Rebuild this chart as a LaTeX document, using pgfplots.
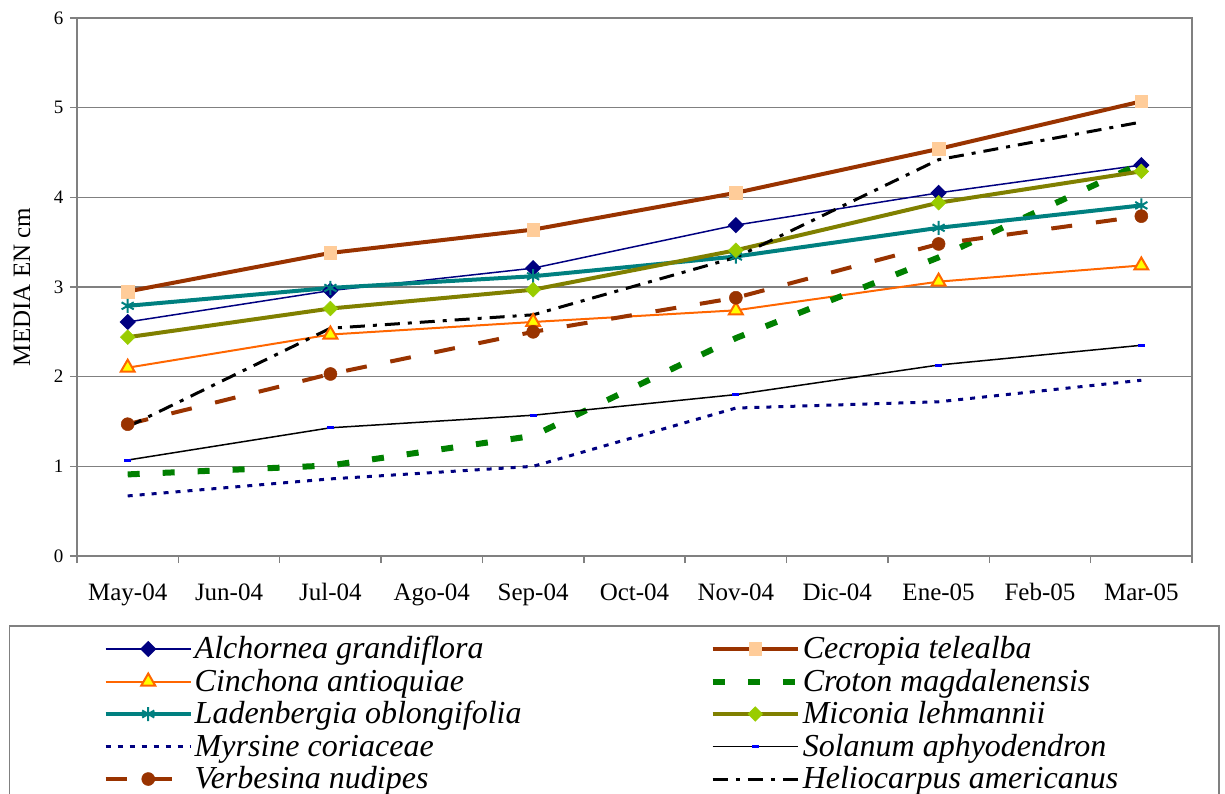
\documentclass[border=0pt]{standalone}
\usepackage{pgfplots}
\pgfplotsset{compat=1.18}
\usepackage{fontspec}
\setmainfont{Liberation Serif}
\definecolor{cNavy}{HTML}{000080}
\definecolor{cBrown}{HTML}{993300}
\definecolor{cPeach}{HTML}{FFCC99}
\definecolor{cOrange}{HTML}{FF6600}
\definecolor{cYellow}{HTML}{FFFF00}
\definecolor{cGreen}{HTML}{008000}
\definecolor{cTeal}{HTML}{008080}
\definecolor{cOlive}{HTML}{808000}
\definecolor{cLime}{HTML}{99CC00}
\definecolor{cBlue}{HTML}{0000FF}
\definecolor{cGrid}{HTML}{808080}
\begin{document}
\begin{tikzpicture}[x=1pt,y=1pt]
\begin{axis}[
  at={(77pt,237pt)}, anchor=south west,
  width=1115pt, height=538pt, scale only axis,
  xmin=-0.5, xmax=10.5, ymin=0, ymax=6,
  xtick={-0.5,0.5,...,10.5}, xticklabels={},
  extra x ticks={0,1,2,3,4,5,6,7,8,9,10},
  extra x tick labels={May-04,Jun-04,Jul-04,Ago-04,Sep-04,Oct-04,Nov-04,Dic-04,Ene-05,Feb-05,Mar-05},
  extra x tick style={major tick length=0pt, xmajorgrids=false},
  ytick={0,1,2,3,4,5,6},
  tick align=outside, tick pos=left, major tick length=7pt,
  ymajorgrids, grid style={draw=cGrid, line width=1.5pt},
  axis line style={draw=cGrid, line width=2pt},
  tick style={draw=cGrid, line width=1.5pt},
  /pgf/number format/assume math mode=true,
  x tick label style={font=\fontsize{25}{25}\selectfont, yshift=-24pt},
  y tick label style={font=\fontsize{19}{19}\selectfont, xshift=-3pt},
  ylabel={MEDIA EN cm},
  every axis y label/.style={at={(rel axis cs:0,0.5)}, xshift=-55pt, rotate=90, anchor=center, font=\fontsize{25}{25}\selectfont},
  legend image code/.code={\draw[mark repeat=2,mark phase=2] plot coordinates {(0pt,0pt) (42.5pt,0pt) (85pt,0pt)};},
  legend columns=2,
  legend style={at={(-0.06099,-0.12825)}, anchor=north west, draw=cGrid, line width=1.5pt, fill=white,
    inner xsep=94pt, inner ysep=7pt,
    font=\fontsize{32}{32}\selectfont\itshape,
    cells={anchor=west},
    nodes={inner xsep=2pt, inner ysep=0pt, text height=25.75pt, text depth=6.75pt},
    /tikz/every even column/.append style={column sep=0pt}},
]
\addplot[cNavy, line width=1.5pt, mark=square*, mark size=5pt, mark options={solid, rotate=45, fill=cNavy, draw=cNavy}]
  coordinates {(0,2.61) (2,2.96) (4,3.21) (6,3.69) (8,4.05) (10,4.36)};
\addlegendentry{\makebox[513pt][l]{Alchornea grandiflora}}
\addplot[cBrown, line width=4pt, mark=square*, mark size=6.3pt, mark options={solid, fill=cPeach, draw=cPeach, line width=0.5pt}]
  coordinates {(0,2.95) (2,3.38) (4,3.64) (6,4.05) (8,4.54) (10,5.07)};
\addlegendentry{\makebox[320pt][l]{Cecropia telealba}}
\addplot[cOrange, line width=2pt, mark=triangle*, mark size=8pt, mark options={solid, fill=cYellow, draw=cOrange, line width=2pt}]
  coordinates {(0,2.10) (2,2.47) (4,2.61) (6,2.74) (8,3.06) (10,3.24)};
\addlegendentry{\makebox[513pt][l]{Cinchona antioquiae}}
\addplot[cGreen, line width=6pt, dash pattern=on 12pt off 23pt]
  coordinates {(0,0.91) (2,1.01) (4,1.34) (6,2.43) (8,3.33) (10,4.38)};
\addlegendentry{\makebox[320pt][l]{Croton magdalenensis}}
\addplot[cTeal, line width=4pt, mark=asterisk, mark size=7pt, mark options={solid, draw=cTeal, line width=2pt}]
  coordinates {(0,2.79) (2,2.99) (4,3.12) (6,3.34) (8,3.66) (10,3.91)};
\addlegendentry{\makebox[513pt][l]{Ladenbergia oblongifolia}}
\addplot[cOlive, line width=4pt, mark=square*, mark size=5.2pt, mark options={solid, rotate=45, fill=cLime, draw=cLime, line width=0.5pt}]
  coordinates {(0,2.44) (2,2.76) (4,2.97) (6,3.41) (8,3.94) (10,4.29)};
\addlegendentry{\makebox[320pt][l]{Miconia lehmannii}}
\addplot[cNavy, line width=3pt, dash pattern=on 5pt off 7pt]
  coordinates {(0,0.67) (2,0.86) (4,1.00) (6,1.65) (8,1.72) (10,1.96)};
\addlegendentry{\makebox[513pt][l]{Myrsine coriaceae}}
\addplot[black, line width=1.5pt, mark=-, mark size=3.5pt, mark options={solid, draw=cBlue, line width=3pt}]
  coordinates {(0,1.07) (2,1.43) (4,1.57) (6,1.80) (8,2.13) (10,2.35)};
\addlegendentry{\makebox[320pt][l]{Solanum aphyodendron}}
\addplot[cBrown, line width=4pt, dash pattern=on 21pt off 24pt, mark=*, mark size=6.5pt, mark options={solid, fill=cBrown, draw=cBrown, line width=0.5pt}]
  coordinates {(0,1.47) (2,2.03) (4,2.50) (6,2.88) (8,3.48) (10,3.79)};
\addlegendentry{\makebox[513pt][l]{Verbesina nudipes}}
\addplot[black, line width=3pt, dash pattern=on 15pt off 8pt on 4pt off 8pt]
  coordinates {(0,1.44) (2,2.54) (4,2.69) (6,3.33) (8,4.42) (10,4.84)};
\addlegendentry{\makebox[320pt][l]{Heliocarpus americanus}}
\end{axis}
\pgfresetboundingbox
\clip (0,0) rectangle (1225,793);
\useasboundingbox (0,0) rectangle (1225,793);
\end{tikzpicture}
\end{document}
